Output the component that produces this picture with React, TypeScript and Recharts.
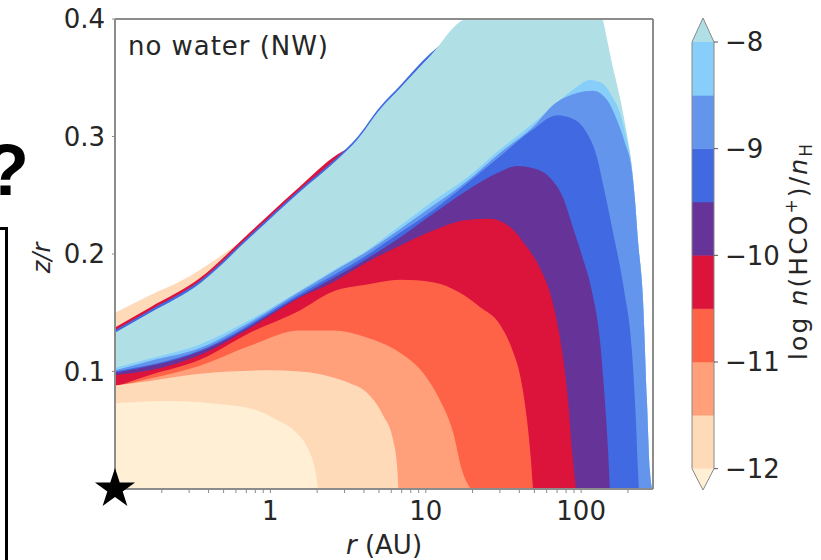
import React from "react";
import {
  ComposedChart,
  Area,
  Line,
  Scatter,
  XAxis,
  YAxis,
  ZAxis,
  ReferenceLine,
} from "recharts";

const FONT = "'DejaVu Sans', sans-serif";
const INK = "#262626";
const SPINE = "#8c8c8c";

// contour edges, painted from the outermost region inwards: r (AU) and z/r
const peachSliverR = [0.1, 0.168, 0.274, 0.44, 0.637, 0.883];
const peachSliverZ = [0.15, 0.165, 0.178, 0.195, 0.21, 0.224];

const redSliverR = [0.1, 0.168, 0.352, 0.739, 1.55, 2.68, 3.5];
const redSliverZ = [0.1375, 0.1545, 0.1795, 0.2185, 0.2575, 0.2845, 0.293];

const blueSliverR = [0.1, 0.168, 0.352, 0.739, 1.55, 2.68, 3.61, 5.07, 6.82, 10.6, 16.6];
const blueSliverZ = [0.1352, 0.1522, 0.1772, 0.2162, 0.2552, 0.2822, 0.2992, 0.3252, 0.3432, 0.3702, 0.39];

const surfaceR = [0.1, 0.168, 0.352, 0.739, 1.55, 2.68, 3.61, 5.07, 6.82, 10.6, 18.7, 136, 147, 160, 173, 186, 200, 212, 222, 232, 250, 265, 277, 286];
const surfaceZ = [0.133, 0.15, 0.175, 0.214, 0.253, 0.28, 0.297, 0.323, 0.341, 0.368, 0.4, 0.4, 0.382, 0.359, 0.34, 0.32, 0.297, 0.274, 0.246, 0.212, 0.161, 0.076, 0.016, 0];

const lvl85R = [0.1, 0.168, 0.352, 0.739, 1.55, 2.53, 4.18, 6.82, 11.1, 18.4, 30, 49, 73.1, 91.2, 114, 138, 160, 178, 194, 212, 222, 232, 250, 265, 277, 286];
const lvl85Z = [0.103, 0.111, 0.123, 0.144, 0.169, 0.186, 0.203, 0.224, 0.245, 0.265, 0.289, 0.311, 0.331, 0.341, 0.348, 0.345, 0.333, 0.32, 0.301, 0.274, 0.246, 0.212, 0.161, 0.076, 0.016, 0];

const lvl9R = [0.1, 0.168, 0.352, 0.739, 1.55, 2.53, 4.18, 6.82, 11.1, 18.4, 30, 49, 67.8, 94, 119, 147, 170, 191, 212, 222, 232, 250, 265, 277, 286];
const lvl9Z = [0.101, 0.109, 0.12, 0.142, 0.168, 0.185, 0.202, 0.221, 0.241, 0.262, 0.286, 0.308, 0.328, 0.337, 0.339, 0.331, 0.314, 0.295, 0.271, 0.246, 0.212, 0.161, 0.076, 0.016, 0];

const lvl95R = [0.1, 0.352, 1.55, 4.18, 6.82, 11.1, 18.4, 30, 49, 69.9, 88.6, 109, 126, 138, 160, 189, 212, 225, 232, 235];
const lvl95Z = [0.1, 0.118, 0.166, 0.199, 0.218, 0.237, 0.26, 0.283, 0.306, 0.318, 0.315, 0.303, 0.283, 0.26, 0.219, 0.169, 0.118, 0.059, 0.016, 0];

const lvl10R = [0.1, 0.352, 1.55, 4.18, 6.82, 11.1, 18.4, 30, 38.6, 49, 63, 76.4, 87.3, 101, 117, 132, 142, 149, 153];
const lvl10Z = [0.099, 0.117, 0.164, 0.196, 0.214, 0.234, 0.254, 0.27, 0.275, 0.273, 0.265, 0.248, 0.225, 0.199, 0.169, 0.127, 0.076, 0.033, 0];

const lvl105R = [0.1, 0.168, 0.352, 0.739, 1.55, 2.53, 4.18, 6.82, 11.1, 18.4, 25.9, 32.3, 37.5, 43.5, 54.3, 64.9, 75.2, 82.3, 87.3, 92.6];
const lvl105Z = [0.097, 0.101, 0.114, 0.137, 0.163, 0.176, 0.193, 0.207, 0.22, 0.229, 0.23, 0.226, 0.219, 0.208, 0.188, 0.161, 0.118, 0.076, 0.033, 0];

const lvl11R = [0.1, 0.168, 0.352, 0.739, 1.55, 2.53, 4.18, 6.82, 11.1, 16.6, 22.3, 30, 36.4, 40.4, 44.8, 47.5, 49];
const lvl11Z = [0.087, 0.097, 0.11, 0.133, 0.152, 0.168, 0.174, 0.178, 0.176, 0.167, 0.155, 0.14, 0.117, 0.097, 0.059, 0.025, 0];

const lvl115R = [0.1, 0.168, 0.352, 0.739, 1.55, 2.53, 4.18, 6.82, 9.6, 12.3, 15, 17.1, 19.5];
const lvl115Z = [0.087, 0.094, 0.105, 0.122, 0.135, 0.135, 0.129, 0.116, 0.099, 0.076, 0.048, 0.016, 0];

const lvl12R = [0.1, 0.168, 0.352, 0.951, 1.55, 2.53, 3.25, 4.18, 5.3, 6.15, 6.53, 6.67];
const lvl12Z = [0.088, 0.092, 0.098, 0.101, 0.1, 0.095, 0.09, 0.082, 0.063, 0.042, 0.02, 0];

const coreR = [0.1, 0.216, 0.574, 0.857, 1.1, 1.44, 1.72, 1.91, 1.99, 2.02];
const coreZ = [0.073, 0.075, 0.071, 0.066, 0.059, 0.049, 0.036, 0.02, 0.008, 0];

const xTicks = [0.2, 0.3, 0.4, 0.5, 0.6, 0.7, 0.8, 0.9, 1, 2, 3, 4, 5, 6, 7, 8, 9, 10, 20, 30, 40, 50, 60, 70, 80, 90, 100, 200];
const xLabelled = [1, 10, 100];
const yTicks = [0.1, 0.2, 0.3, 0.4];
const starPoint = [{ r: 0.1, z: 0 }];

// colour bar
const cbLevels = [-12, -11.5, -11, -10.5, -10, -9.5, -9, -8.5, -8];
const cbColors = ["#ffdab9", "#ffa07a", "#ff6347", "#dc143c", "#663399", "#4169e1", "#6495ed", "#87cefa"];
const cbTicks = [-12, -11, -10, -9, -8];
const cbTips = [-12.2, -7.775];
const underColor = "#ffefd5";
const overColor = "#b0e0e6";

const rows = (r: number[], z: number[]) => r.map((v, i) => ({ r: v, z: z[i] }));

const layers = [
  { id: "peach", data: rows(peachSliverR, peachSliverZ), fill: "#ffdab9" },
  { id: "red", data: rows(redSliverR, redSliverZ), fill: "#dc143c" },
  { id: "blue", data: rows(blueSliverR, blueSliverZ), fill: "#4169e1" },
  { id: "surface", data: rows(surfaceR, surfaceZ), fill: overColor },
  { id: "l85", data: rows(lvl85R, lvl85Z), fill: cbColors[7] },
  { id: "l9", data: rows(lvl9R, lvl9Z), fill: cbColors[6] },
  { id: "l95", data: rows(lvl95R, lvl95Z), fill: cbColors[5] },
  { id: "l10", data: rows(lvl10R, lvl10Z), fill: cbColors[4] },
  { id: "l105", data: rows(lvl105R, lvl105Z), fill: cbColors[3] },
  { id: "l11", data: rows(lvl11R, lvl11Z), fill: cbColors[2] },
  { id: "l115", data: rows(lvl115R, lvl115Z), fill: cbColors[1] },
  { id: "l12", data: rows(lvl12R, lvl12Z), fill: cbColors[0] },
  { id: "core", data: rows(coreR, coreZ), fill: underColor },
];

const bands = cbColors.map((c, i) => ({
  fill: c,
  data: [
    { x: 0, v: [cbLevels[i], cbLevels[i + 1]] },
    { x: 1, v: [cbLevels[i], cbLevels[i + 1]] },
  ],
}));
const lowArrow = [
  { x: 0, v: [cbLevels[0], cbLevels[0]] },
  { x: 0.5, v: [cbTips[0], cbLevels[0]] },
  { x: 1, v: [cbLevels[0], cbLevels[0]] },
];
const highArrow = [
  { x: 0, v: [cbLevels[8], cbLevels[8]] },
  { x: 0.5, v: [cbLevels[8], cbTips[1]] },
  { x: 1, v: [cbLevels[8], cbLevels[8]] },
];
const outline = [
  { x: 0, v: cbLevels[0] },
  { x: 0, v: cbLevels[8] },
  { x: 0.5, v: cbTips[1] },
  { x: 1, v: cbLevels[8] },
  { x: 1, v: cbLevels[0] },
  { x: 0.5, v: cbTips[0] },
  { x: 0, v: cbLevels[0] },
];

const tickStyle = { fontSize: 26, fill: INK, fontFamily: FONT };

function ContourPanel() {
  return (
    <ComposedChart width={821} height={560} margin={{ top: 19, right: 168, bottom: 31, left: 55 }}>
      <XAxis
        dataKey="r"
        type="number"
        scale="log"
        domain={[0.1, 290]}
        ticks={xTicks}
        tickFormatter={(v: number) => (xLabelled.includes(v) ? String(v) : "")}
        height={40}
        axisLine={false}
        tickLine={{ stroke: SPINE }}
        tickSize={4}
        tickMargin={9}
        tick={tickStyle}
        interval={0}
      />
      <YAxis
        type="number"
        domain={[0, 0.4]}
        ticks={yTicks}
        tickFormatter={(v: number) => v.toFixed(1)}
        width={60}
        axisLine={false}
        tickLine={{ stroke: SPINE }}
        tickSize={3}
        tickMargin={7}
        tick={tickStyle}
        interval={0}
      />
      <ZAxis range={[500, 500]} />
      {layers.map((l) => (
        <Area
          key={l.id}
          data={l.data}
          dataKey="z"
          type="monotone"
          stroke="none"
          fill={l.fill}
          fillOpacity={1}
          isAnimationActive={false}
        />
      ))}
      <ReferenceLine x={0.1} stroke={SPINE} strokeWidth={2} />
      <ReferenceLine x={290} stroke={SPINE} strokeWidth={2} />
      <ReferenceLine y={0} stroke={SPINE} strokeWidth={2} />
      <ReferenceLine y={0.4} stroke={SPINE} strokeWidth={2} />
      <Scatter data={starPoint} dataKey="z" shape="star" fill="#000" isAnimationActive={false} />
    </ComposedChart>
  );
}

function ColourBar() {
  return (
    <ComposedChart width={141} height={560} margin={{ top: 18, right: 7, bottom: 70, left: 12 }}>
      <XAxis dataKey="x" type="number" domain={[0, 1]} hide />
      <YAxis
        type="number"
        orientation="right"
        domain={[cbTips[0], cbTips[1]]}
        ticks={cbTicks}
        tickFormatter={(v: number) => `\u2212${Math.abs(v)}`}
        width={100}
        axisLine={false}
        tickLine={{ stroke: "#555" }}
        tickSize={4}
        tickMargin={7}
        tick={tickStyle}
        interval={0}
      />
      {bands.map((b, i) => (
        <Area
          key={i}
          data={b.data}
          dataKey="v"
          type="linear"
          stroke={b.fill}
          strokeWidth={0.5}
          fill={b.fill}
          fillOpacity={1}
          isAnimationActive={false}
        />
      ))}
      <Area data={lowArrow} dataKey="v" type="linear" stroke="none" fill={underColor} fillOpacity={1} isAnimationActive={false} />
      <Area data={highArrow} dataKey="v" type="linear" stroke="none" fill={overColor} fillOpacity={1} isAnimationActive={false} />
      <Line data={outline} dataKey="v" type="linear" stroke="#888" strokeWidth={1} dot={false} isAnimationActive={false} />
    </ComposedChart>
  );
}

export default function App() {
  return (
    <div style={{ position: "absolute", left: 0, top: 0, width: 821, height: 560, background: "#fff", overflow: "hidden" }}>
      <div style={{ position: "absolute", left: 0, top: 0 }}>
        <ContourPanel />
      </div>
      <div style={{ position: "absolute", left: 680, top: 0 }}>
        <ColourBar />
      </div>
      <svg
        width={821}
        height={560}
        style={{ position: "absolute", left: 0, top: 0, pointerEvents: "none" }}
        fontFamily={FONT}
        fill={INK}
      >
        <text x={-15} y={195} fontFamily="'Liberation Sans', Arial, sans-serif" fontWeight="bold" fontSize={72} fill="#000">
          ?
        </text>
        <path d="M0 228.5 H6.5 V560" fill="none" stroke="#000" strokeWidth={3} />
        <text x={128} y={55} fontSize={26} textLength={200}>
          no water (NW)
        </text>
        <text x={384} y={554} fontSize={26} textAnchor="middle">
          <tspan fontStyle="italic">r</tspan> (AU)
        </text>
        <text transform="translate(50,258) rotate(-90)" textAnchor="middle" fontSize={24} fontStyle="italic">
          z/r
        </text>
        <text transform="translate(807,252) rotate(-90)" textAnchor="middle" fontSize={25} textLength={216}>
          log <tspan fontStyle="italic">n</tspan>(HCO<tspan dy={-10} fontSize={17}>+</tspan>
          <tspan dy={10}>)/</tspan>
          <tspan fontStyle="italic">n</tspan>
          <tspan dy={5} fontSize={17}>H</tspan>
        </text>
      </svg>
    </div>
  );
}
